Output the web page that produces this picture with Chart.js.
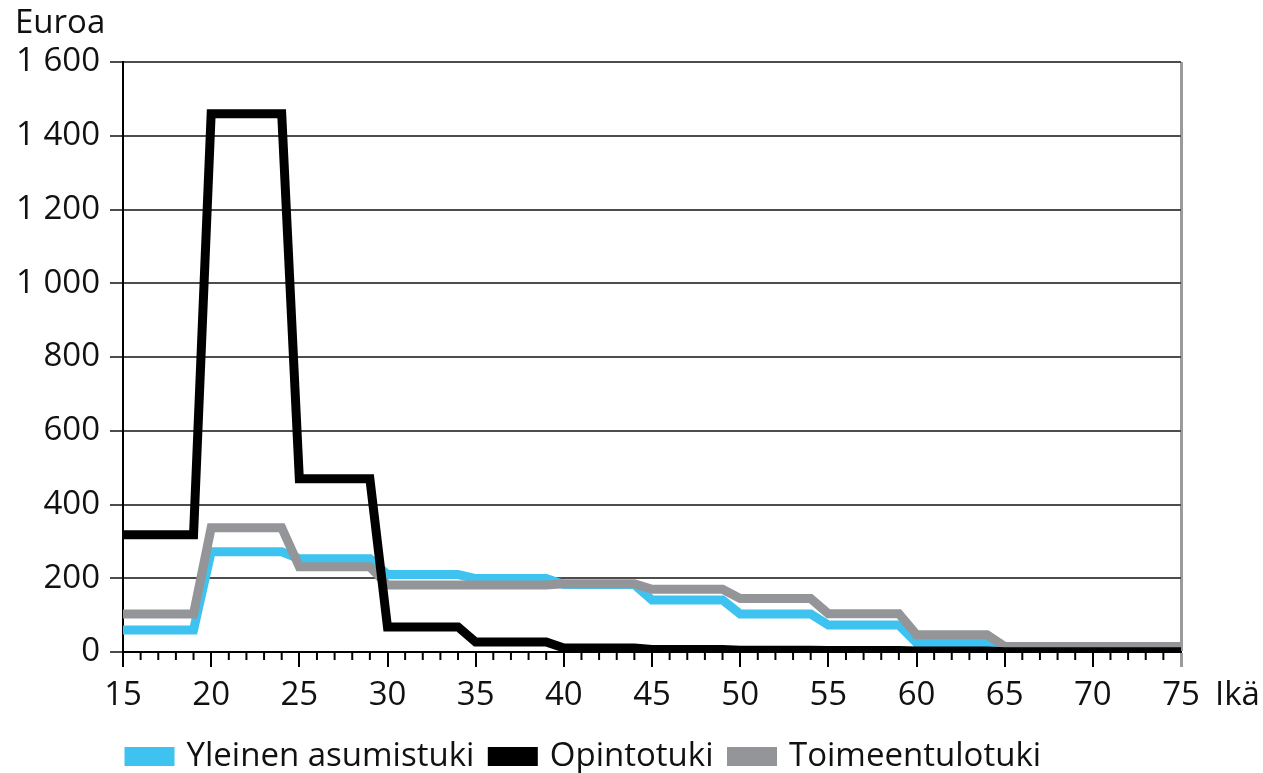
<!DOCTYPE html>
<html>
<head>
<meta charset="utf-8">
<script src="https://cdn.jsdelivr.net/npm/chart.js@4/dist/chart.umd.min.js"></script>
<style>
  html, body { margin: 0; padding: 0; background: #fff; }
  #wrap { width: 1263px; height: 773px; }
</style>
</head>
<body>
<div id="wrap"><canvas id="tuetChart"></canvas></div>
<script>
// ikäryhmät (5 v.) ja niiden arvot, euroa
var groupStart = [15, 20, 25, 30, 35, 40, 45, 50, 55, 60, 65, 70];
var groupEnd   = [19, 24, 29, 34, 39, 44, 49, 54, 59, 64, 69, 75];

var asumistuki      = [60, 272, 253, 210, 199, 183, 141, 103, 73, 25, 5, 5];
var opintotuki      = [318, 1460, 470, 68, 27, 11, 7, 5, 4, 3, 1, 1];
var toimeentulotuki = [103, 337, 231, 182, 182, 185, 170, 145, 104, 47, 15, 15];

var seriesNames = ['Yleinen asumistuki', 'Opintotuki', 'Toimeentulotuki'];
var xTitle = 'Ikä';
var yTitle = 'Euroa';

var FONT = '"Open Sans", sans-serif';
var FS = 33;

function steps(values) {
    var pts = [];
    for (var i = 0; i < values.length; i++) {
        pts.push({x: groupStart[i], y: values[i]});
        pts.push({x: groupEnd[i], y: values[i]});
    }
    return pts;
}

function fmt(v) {
    return String(v).replace(/\B(?=(\d{3})+(?!\d))/g, ' ');
}

// minor ticks on the age axis + axis titles
var extras = {
    id: 'extras',
    afterLayout: function(chart) {
        // legend starts right under the y axis
        chart.legend.left -= 12;
        chart.legend.right -= 12;
    },
    beforeDatasetsDraw: function(chart) {
        var c = chart.ctx, x = chart.scales.x;
        c.save();
        c.strokeStyle = '#000';
        c.lineWidth = 2;
        for (var a = x.min; a <= x.max; a++) {
            if (a % 5 === 0) continue;
            var px = x.getPixelForValue(a);
            c.beginPath();
            c.moveTo(px, x.top);
            c.lineTo(px, x.top + 8);
            c.stroke();
        }
        c.restore();
    },
    afterDraw: function(chart) {
        var c = chart.ctx, area = chart.chartArea;
        c.save();
        c.fillStyle = '#111';
        c.font = FS + 'px ' + FONT;
        c.textBaseline = 'alphabetic';
        c.textAlign = 'left';
        c.fillText(yTitle, 15, 33);
        c.fillText(xTitle, area.right + 34, area.bottom + 53);
        c.restore();
    }
};

var ctx = document.getElementById('tuetChart').getContext('2d');

var chart = new Chart(ctx, {
    type: 'line',
    data: {
        datasets: [{
            label: seriesNames[0],
            data: steps(asumistuki),
            borderColor: '#3ec3f0',
            backgroundColor: '#3ec3f0',
            order: 2
        }, {
            label: seriesNames[1],
            data: steps(opintotuki),
            borderColor: '#000',
            backgroundColor: '#000',
            order: 0
        }, {
            label: seriesNames[2],
            data: steps(toimeentulotuki),
            borderColor: '#939598',
            backgroundColor: '#939598',
            order: 1
        }]
    },
    options: {
        responsive: true,
        maintainAspectRatio: false,
        animation: false,
        datasets: {
            line: {
                borderWidth: 9,
                pointRadius: 0,
                tension: 0,
                borderJoinStyle: 'miter',
                borderCapStyle: 'butt'
            }
        },
        layout: {
            padding: {left: 0, top: 62, right: 82, bottom: -10}
        },
        plugins: {
            tooltip: {enabled: false},
            legend: {
                position: 'bottom',
                align: 'start',
                fullSize: false,
                labels: {
                    boxWidth: 41,
                    boxHeight: 10,
                    padding: 18,
                    color: '#111',
                    font: {family: FONT, size: FS},
                    sort: function(a, b) { return a.datasetIndex - b.datasetIndex; }
                }
            }
        },
        scales: {
            x: {
                type: 'linear',
                min: 15,
                max: 75,
                afterFit: function(s) { s.height = 70; },
                ticks: {
                    stepSize: 5,
                    autoSkip: false,
                    maxRotation: 0,
                    padding: 9,
                    color: '#111',
                    font: {family: FONT, size: FS}
                },
                grid: {
                    drawOnChartArea: true,
                    color: function(c) { return c.tick && c.tick.value === 75 ? '#9a9a9a' : 'rgba(0,0,0,0)'; },
                    lineWidth: function(c) { return c.tick && c.tick.value === 75 ? 3 : 2; },
                    tickColor: function(c) { return c.tick && c.tick.value === 75 ? '#9a9a9a' : '#000'; },
                    tickWidth: function(c) { return c.tick && c.tick.value === 75 ? 3 : 2; },
                    tickLength: 15
                },
                border: {display: true, color: '#000', width: 2}
            },
            y: {
                min: 0,
                max: 1600,
                afterFit: function(s) { s.width = 123; },
                ticks: {
                    stepSize: 200,
                    padding: 10,
                    color: '#111',
                    font: {family: FONT, size: FS},
                    callback: function(v) { return fmt(v); }
                },
                grid: {
                    color: '#4d4d4d',
                    lineWidth: 2,
                    tickColor: '#4d4d4d',
                    tickLength: 13
                },
                border: {display: true, color: '#000', width: 2}
            }
        }
    },
    plugins: [extras]
});
</script>
</body>
</html>
